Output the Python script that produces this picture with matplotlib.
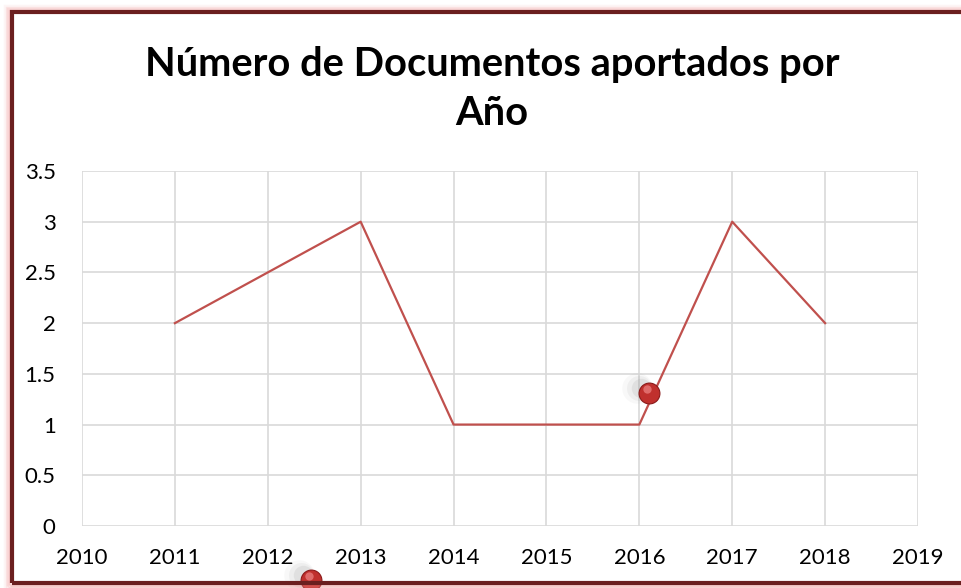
import matplotlib
matplotlib.use("Agg")
import matplotlib.pyplot as plt
from matplotlib.patches import Rectangle

years = [2011, 2012, 2013, 2014, 2015, 2016, 2017, 2018]
docs = [2, 2.5, 3, 1, 1, 1, 3, 2]
x_ticks = list(range(2010, 2020))
y_ticks = [0, 0.5, 1, 1.5, 2, 2.5, 3, 3.5]
y_tick_labels = ["0", "0.5", "1", "1.5", "2", "2.5", "3", "3.5"]
sphere_x = [2016.1, 2012.46]
sphere_y = [1.31, -0.53]
title = "Número de Documentos aportados por\nAño"

plt.rcParams['font.family'] = ['Lato', 'DejaVu Sans']

W, H = 962, 588
fig = plt.figure(figsize=(W / 100, H / 100), dpi=100)
fig.patch.set_facecolor("white")

# frame with glow
for i, a in enumerate([0.08, 0.12, 0.18, 0.25]):
    off = (4 - i) * 1.5
    fig.add_artist(Rectangle(((11 - off) / W, (5 - off) / H), (W + 20) / W, (H - 17 + 2 * off) / H,
                             transform=fig.transFigure, fill=False,
                             edgecolor="#F08080", alpha=a, linewidth=2.5, clip_on=False))
fig.add_artist(Rectangle((12 / W, 5 / H), (W + 20) / W, (H - 17) / H,
                         transform=fig.transFigure, fill=False,
                         edgecolor="#6B1F1F", linewidth=3, clip_on=False))

ax = fig.add_axes([82 / W, (H - 526) / H, (918 - 82) / W, (526 - 171) / H])
ax.plot(years, docs, color="#C0504D", linewidth=1.6, zorder=3)
ax.set_xlim(2010, 2019)
ax.set_ylim(0, 3.5)
ax.set_xticks(x_ticks)
ax.set_xticklabels([str(v) for v in x_ticks])
ax.set_yticks(y_ticks)
ax.set_yticklabels(y_tick_labels)
ax.grid(True, color="#D9D9D9", linewidth=1.2, zorder=0)
for s in ax.spines.values():
    s.set_visible(False)
ax.tick_params(length=0, labelsize=16, colors="black")
ax.tick_params(axis="x", pad=16)
ax.tick_params(axis="y", pad=19)

# decorative spheres with shadows
for sx, sy in zip(sphere_x, sphere_y):
    for k, (dx, a, ms) in enumerate([(-0.12, 0.05, 22), (-0.1, 0.08, 18), (-0.08, 0.12, 14)]):
        ax.plot([sx + dx], [sy + 0.05], "o", color="gray", alpha=a, markersize=ms,
                markeredgewidth=0, clip_on=False, zorder=4)
    ax.plot([sx], [sy], "o", color="#C0302D", markersize=15, markeredgewidth=0.8,
            markeredgecolor="#8B1A1A", clip_on=False, zorder=5)
    ax.plot([sx - 0.02], [sy + 0.04], "o", color="#E87A7A", markersize=6,
            markeredgewidth=0, clip_on=False, zorder=6, alpha=0.8)

fig.text(492 / W, 1 - 89 / H, title, ha="center", va="center",
         fontsize=28.7, fontweight="bold", linespacing=1.42)

fig.savefig("out.png", dpi=100)
